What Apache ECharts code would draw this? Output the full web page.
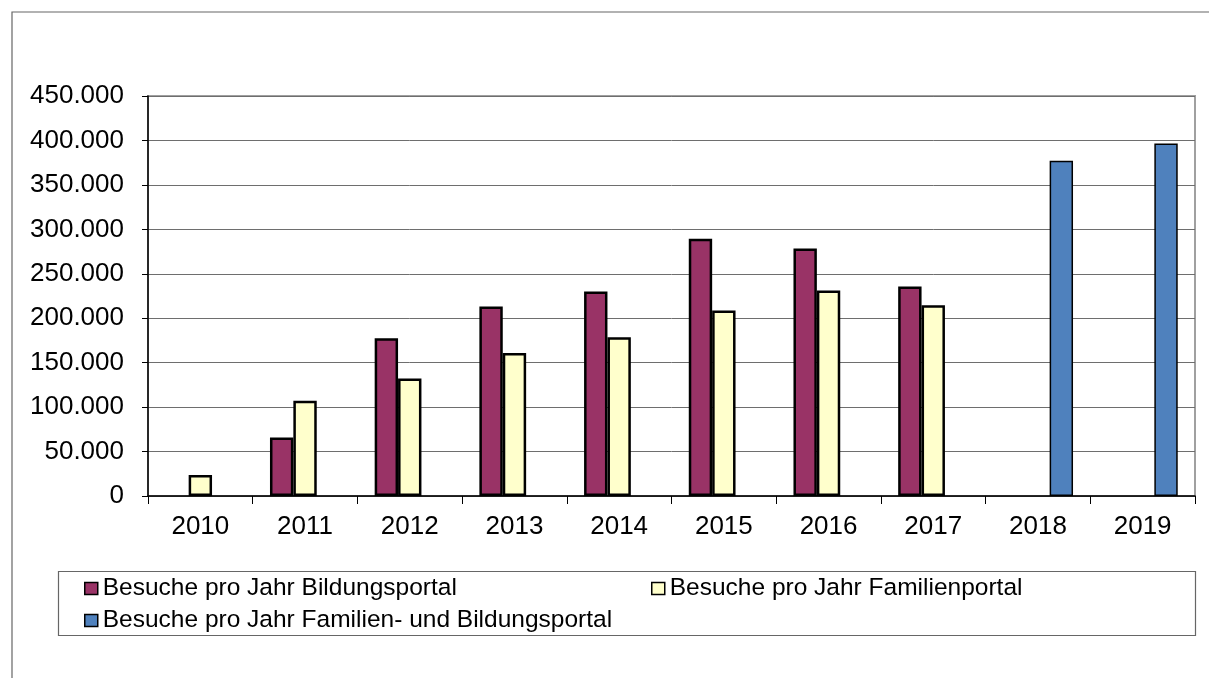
<!DOCTYPE html>
<html>
<head>
<meta charset="utf-8">
<script src="https://cdn.jsdelivr.net/npm/echarts@6/dist/echarts.min.js"></script>
<style>
html,body{margin:0;padding:0;background:#fff;}
#chart{width:1209px;height:678px;}
</style>
</head>
<body>
<div id="chart"></div>
<script>
const years = ['2010','2011','2012','2013','2014','2015','2016','2017','2018','2019'];
const bildungsportal = [null, 65900, 177500, 213100, 230000, 289500, 278300, 235600, null, null];
const familienportal = [23600, 107100, 132200, 161000, 178600, 208600, 231100, 214600, null, null];
const kombiniert = [null, null, null, null, null, null, null, null, 377200, 396600];
const seriesNames = [
  'Besuche pro Jahr Bildungsportal',
  'Besuche pro Jahr Familienportal',
  'Besuche pro Jahr Familien- und Bildungsportal'
];

const FONT = '"Liberation Sans", Arial, sans-serif';
function fmt(v){
  return String(Math.round(v)).replace(/\B(?=(\d{3})+(?!\d))/g, '.');
}
const chart = echarts.init(document.getElementById('chart'), null, {renderer:'canvas'});
const legendBase = {
  orient:'horizontal', padding:0, itemWidth:13, itemHeight:12,
  icon:'rect',
  textStyle:{fontFamily:FONT, fontSize:24.5, color:'#000', lineHeight:25},
  selectedMode:false
};
chart.setOption({
  animation:false,
  backgroundColor:'#fff',
  graphic:[
    {type:'rect', shape:{x:12, y:12, width:1220, height:700}, style:{fill:'none', stroke:'#666', lineWidth:1.2}, silent:true, z:-10},
    {type:'rect', shape:{x:58.5, y:571.5, width:1137, height:64}, style:{fill:'#fff', stroke:'#666', lineWidth:1.2}, silent:true, z:-5}
  ],
  grid:{left:148, right:14, top:96, bottom:182, show:true, borderColor:'#a0a0a0', borderWidth:2, backgroundColor:'transparent'},
  legend:[
    Object.assign({}, legendBase, {left:84, top:576, data:[{name:seriesNames[0], itemStyle:{color:'#993366', borderColor:'#000', borderWidth:1.5}}]}),
    Object.assign({}, legendBase, {left:651, top:576, data:[{name:seriesNames[1], itemStyle:{color:'#FFFFCC', borderColor:'#000', borderWidth:1.5}}]}),
    Object.assign({}, legendBase, {left:84, top:608, data:[{name:seriesNames[2], itemStyle:{color:'#4F81BD', borderColor:'#000', borderWidth:1.5}}]})
  ],
  xAxis:{
    type:'category', data:years, boundaryGap:true,
    axisLine:{show:true, lineStyle:{color:'#000', width:1.5}},
    axisTick:{show:true, alignWithLabel:false, length:8, lineStyle:{color:'#000', width:1}},
    axisLabel:{fontFamily:FONT, fontSize:26, color:'#000', margin:18},
    splitLine:{show:false}
  },
  yAxis:{
    type:'value', min:0, max:450000, interval:50000,
    axisLine:{show:true, lineStyle:{color:'#000', width:1.5}},
    axisTick:{show:true, length:6, lineStyle:{color:'#000', width:1}},
    axisLabel:{fontFamily:FONT, fontSize:26, color:'#000', margin:24, formatter:fmt},
    splitLine:{show:true, lineStyle:{color:'#6e6e6e', width:1}}
  },
  series:[
    {name:seriesNames[0], type:'bar', data:bildungsportal, barGap:'0%', barCategoryGap:'33%',
     itemStyle:{color:'#993366', borderColor:'#000', borderWidth:2.5}},
    {name:seriesNames[1], type:'bar', data:familienportal, barGap:'0%', barCategoryGap:'33%',
     itemStyle:{color:'#FFFFCC', borderColor:'#000', borderWidth:2.5}},
    {name:seriesNames[2], type:'bar', data:kombiniert, barGap:'0%', barCategoryGap:'33%',
     itemStyle:{color:'#4F81BD', borderColor:'#000', borderWidth:1.5}}
  ]
});
</script>
</body>
</html>
